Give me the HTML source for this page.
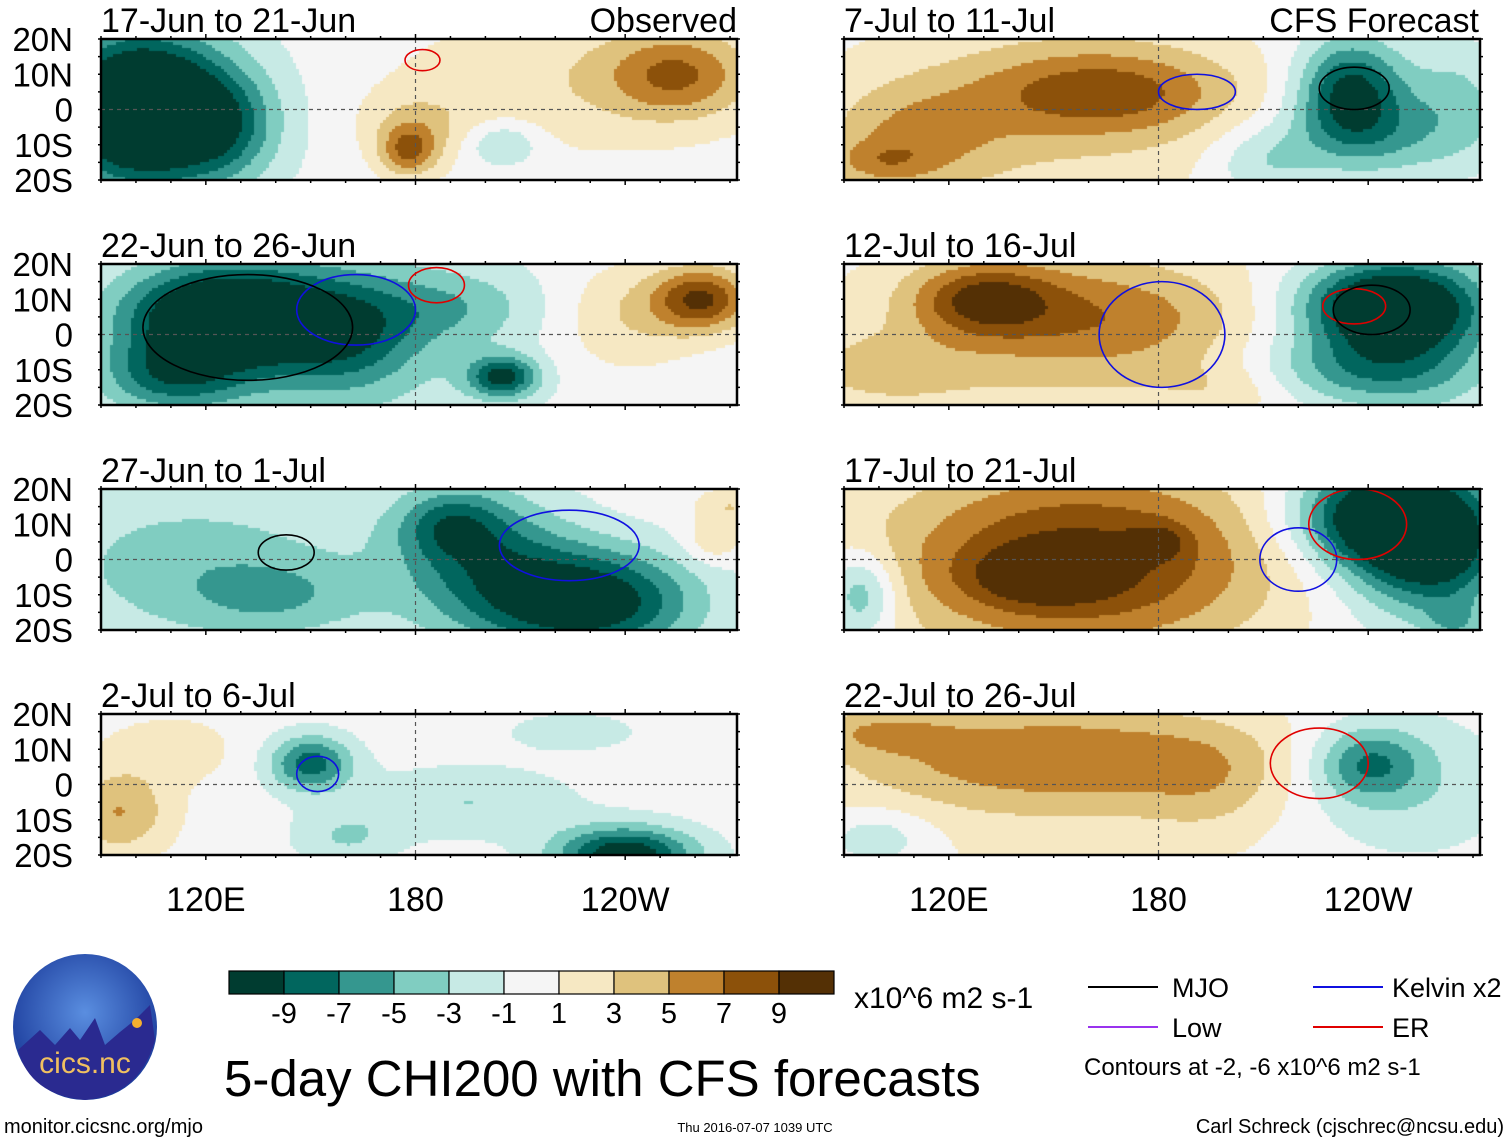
<!DOCTYPE html>
<html><head><meta charset="utf-8">
<style>
html,body{margin:0;padding:0;background:#fff;}
body{width:1510px;height:1142px;position:relative;overflow:hidden;font-family:"Liberation Sans",sans-serif;}
canvas{position:absolute;}
svg{position:absolute;left:0;top:0;}
</style></head><body>
<canvas id="cv" width="1510" height="1142" style="left:0;top:0"></canvas>
<svg id="sv" width="1510" height="1142"></svg>
<script>
// ---- data ----
const levels = [-9,-7,-5,-3,-1,1,3,5,7,9];
const colors = ["#003c30","#01665e","#35978f","#80cdc1","#c7eae5","#f5f5f5","#f6e8c3","#dfc27d","#bf812d","#8c510a","#543005"];
const panelTitles = ["17-Jun to 21-Jun","22-Jun to 26-Jun","27-Jun to 1-Jul","2-Jul to 6-Jul","7-Jul to 11-Jul","12-Jul to 16-Jul","17-Jul to 21-Jul","22-Jul to 26-Jul"];
const latTicks = ["20N","10N","0","10S","20S"];
const lonTicks = ["120E","180","120W"];
const lonTickValues = [120,180,240];
// blobs per panel: lon, lat, amplitude, lon-width, lat-width
const blobLon = [
 [100,125,178,180,205,255,225,112],
 [125,110,160,205,190,262,240,150],
 [110,140,230,200,190,265,270,130],
 [95,110,150,240,195,160,225],
 [165,110,100,235,245,265,210,150],
 [130,165,100,245,235,200,150,255],
 [160,145,180,245,260,95,265,150,255],
 [150,195,100,240,250,100,150]];
const blobLat = [
 [0,-5,-12,-5,-10,10,8,0],
 [5,-12,0,-12,8,10,5,0],
 [0,-10,-12,0,10,5,15,-5],
 [-8,10,6,-20,-5,-15,15],
 [5,-8,-15,5,-8,5,-15,0],
 [10,5,-10,8,-10,-15,0,0],
 [0,-5,5,12,0,-10,-18,0,5],
 [8,0,-15,6,0,15,0]];
const blobAmp = [
 [-14,-5,6,3,-4,6,2.5,-4],
 [-12,-6,-5,-9,-3,9,3,-4],
 [-2,-3,-11,-6,-5,3,3,-2.2],
 [5,2,-8,-11,-3,-3,-2],
 [6,4,3,-10,-4,-3,-3,3],
 [7,4,3,-12,-5,2,3,-4],
 [7,4,3,-12,-5,-6,-3,3,-5],
 [5,2,-3,-6,-3,3,2]];
const blobSx = [
 [22,15,8,15,10,20,50,30],
 [28,20,20,10,25,14,20,55],
 [40,25,30,25,15,8,10,60],
 [15,20,12,20,30,15,20],
 [35,25,15,15,30,15,15,60],
 [20,40,25,25,30,20,60,25],
 [50,20,8,25,20,10,8,70,25],
 [60,20,15,15,30,20,70]];
const blobSy = [
 [20,15,7,10,6,12,20,25],
 [14,10,15,6,10,9,15,30],
 [20,10,15,20,10,6,5,30],
 [12,10,8,8,10,8,6],
 [12,15,6,15,12,15,10,30],
 [10,15,10,12,10,8,30,25],
 [25,8,5,14,15,12,6,30,25],
 [14,15,8,10,20,6,30]];
// contour loops: lon, lat, rlon, rlat, color
const loops = [
 [[182,14,5,3,"#e00000"]],
 [[163,7,17,10,"#1010e0"],[186,14,8,5,"#e00000"],[132,2,30,15,"#000"]],
 [[224,4,20,10,"#1010e0"],[143,2,8,5,"#000"]],
 [[152,3,6,5,"#1010e0"]],
 [[191,5,11,5,"#1010e0"],[236,6,10,6,"#000"]],
 [[181,0,18,15,"#1010e0"],[236,8,9,5,"#e00000"],[241,7,11,7,"#000"]],
 [[220,0,11,9,"#1010e0"],[237,10,14,10,"#e00000"]],
 [[226,6,14,10,"#e00000"]]];

// ---- layout ----
const PW=636, PH=141;
const colX=[101,844], rowY=[39,264,489,714];
function panelPos(i){return {x:colX[i<4?0:1], y:rowY[i%4]};}
function xOf(p,lon){return p.x+(lon-90)*PW/182;}
function yOf(p,lat){return p.y+(20-lat)*PH/40;}
function colorOf(v){let k=0;while(k<levels.length&&v>levels[k])k++;return colors[k];}

const cv=document.getElementById('cv'),ctx=cv.getContext('2d');
const NS="http://www.w3.org/2000/svg",sv=document.getElementById('sv');
function el(tag,attrs,parent){const e=document.createElementNS(NS,tag);for(const k in attrs)e.setAttribute(k,attrs[k]);(parent||sv).appendChild(e);return e;}
function txt(s,x,y,size,anchor,name){const t=el('text',{x:x,y:y,'font-size':size,'text-anchor':anchor||'start','font-family':'Liberation Sans, sans-serif',fill:'#000'});t.textContent=s;


return t;}

const C=3;
for(let i=0;i<8;i++){
 const p=panelPos(i);
 for(let px=0;px<PW;px+=C){
  for(let py=0;py<PH;py+=C){
   const lon=90+(px+C/2)*182/PW, lat=20-(py+C/2)*40/PH;
   let v=0;
   for(let b=0;b<blobLon[i].length;b++){
    const dx=(lon-blobLon[i][b])/blobSx[i][b], dy=(lat-blobLat[i][b])/blobSy[i][b];
    v+=blobAmp[i][b]*Math.exp(-(dx*dx+dy*dy));
   }
   ctx.fillStyle=colorOf(v);
   ctx.fillRect(p.x+px,p.y+py,C,C);
  }
 }
 const g=el('g',{});
 
 
 el('line',{x1:p.x,x2:p.x+PW,y1:yOf(p,0),y2:yOf(p,0),stroke:'#555','stroke-width':1.2,'stroke-dasharray':'4,4'},g);
 el('line',{x1:xOf(p,180),x2:xOf(p,180),y1:p.y,y2:p.y+PH,stroke:'#555','stroke-width':1.2,'stroke-dasharray':'4,4'},g);
 loops[i].forEach(L=>{
  const e=el('ellipse',{cx:xOf(p,L[0]),cy:yOf(p,L[1]),rx:L[2]*PW/182,ry:L[3]*PH/40,fill:'none',stroke:L[4],'stroke-width':1.6},g);
  
  
 });
 el('rect',{x:p.x,y:p.y,width:PW,height:PH,fill:'none',stroke:'#000','stroke-width':2.5},g);
 for(let lon=90;lon<=272;lon+=10){
  const x=xOf(p,lon);
  const major=lonTickValues.includes(lon);
  el('line',{x1:x,x2:x,y1:p.y,y2:p.y+(major?-5:-3),stroke:'#000','stroke-width':1.5},g);
  el('line',{x1:x,x2:x,y1:p.y+PH,y2:p.y+PH+(major?5:3),stroke:'#000','stroke-width':1.5},g);
 }
 for(let lat=-20;lat<=20;lat+=5){
  el('line',{x1:p.x,x2:p.x-3,y1:yOf(p,lat),y2:yOf(p,lat),stroke:'#000','stroke-width':1.5},g);
  el('line',{x1:p.x+PW,x2:p.x+PW+3,y1:yOf(p,lat),y2:yOf(p,lat),stroke:'#000','stroke-width':1.5},g);
 }
 txt(panelTitles[i],p.x,p.y-7,34,'start','panel-title');
 if(i<4){
  latTicks.forEach((s,k)=>txt(s,73,p.y+k*PH/4+12,33,'end','lat-label'));
 }
}
txt("Observed",737,32,34,'end','observed-label');
txt("CFS Forecast",1479,32,34,'end','forecast-label');
[0,4].forEach(i=>{const p=panelPos(i+3);lonTicks.forEach((s,k)=>txt(s,xOf(p,lonTickValues[k]),911,34,'middle','lon-label'));});

// colorbar
const cb=el('g',{});


colors.forEach((c,k)=>el('rect',{x:229+k*55,y:971,width:55,height:23,fill:c,stroke:'#000','stroke-width':1.2},cb));
levels.forEach((l,k)=>txt(String(l),229+(k+1)*55,1023,29,'middle','colorbar-tick'));
txt("x10^6 m2 s-1",854,1008,30,'start','colorbar-units');
txt("5-day CHI200 with CFS forecasts",224,1096,51,'start','main-title');

// legend
const lg=[["MJO","#000",1088,987,84],["Low","#9933ee",1088,1027,84],["Kelvin x2","#1010e0",1313,987,79],["ER","#e00000",1313,1027,79]];
lg.forEach(L=>{const l=el('line',{x1:L[2],x2:L[2]+70,y1:L[3],y2:L[3],stroke:L[1],'stroke-width':2});


txt(L[0],L[2]+L[4],L[3]+10,27,'start','legend-entry');});
txt("Contours at -2, -6 x10^6 m2 s-1",1084,1075,24,'start','contour-note');
txt("monitor.cicsnc.org/mjo",4,1133,20,'start','source-url');
txt("Thu 2016-07-07 1039 UTC",755,1132,13,'middle','timestamp');
txt("Carl Schreck (cjschrec@ncsu.edu)",1504,1133,20,'end','author-credit');

// logo
const lo=el('g',{});


const df=el('defs',{},lo);
const rg=el('radialGradient',{id:'lg',cx:'50%',cy:'40%',r:'60%'},df);
el('stop',{offset:'0%','stop-color':'#5a8ee0'},rg);el('stop',{offset:'100%','stop-color':'#1a3a9a'},rg);
el('ellipse',{cx:85,cy:1027,rx:72,ry:73,fill:'url(#lg)'},lo);
el('path',{d:'M18,1050 L40,1030 L55,1045 L70,1028 L80,1040 L95,1018 L105,1045 L120,1032 L135,1020 L150,1005 L155,1040 Q140,1095 85,1100 Q30,1095 18,1050 Z',fill:'#2a2a90'},lo);
el('circle',{cx:137,cy:1023,r:5,fill:'#f5b030'},lo);
const lt=txt("cics.nc",85,1073,30,'middle','logo-text');lt.setAttribute('fill','#f0c060');
</script>
</body></html>
